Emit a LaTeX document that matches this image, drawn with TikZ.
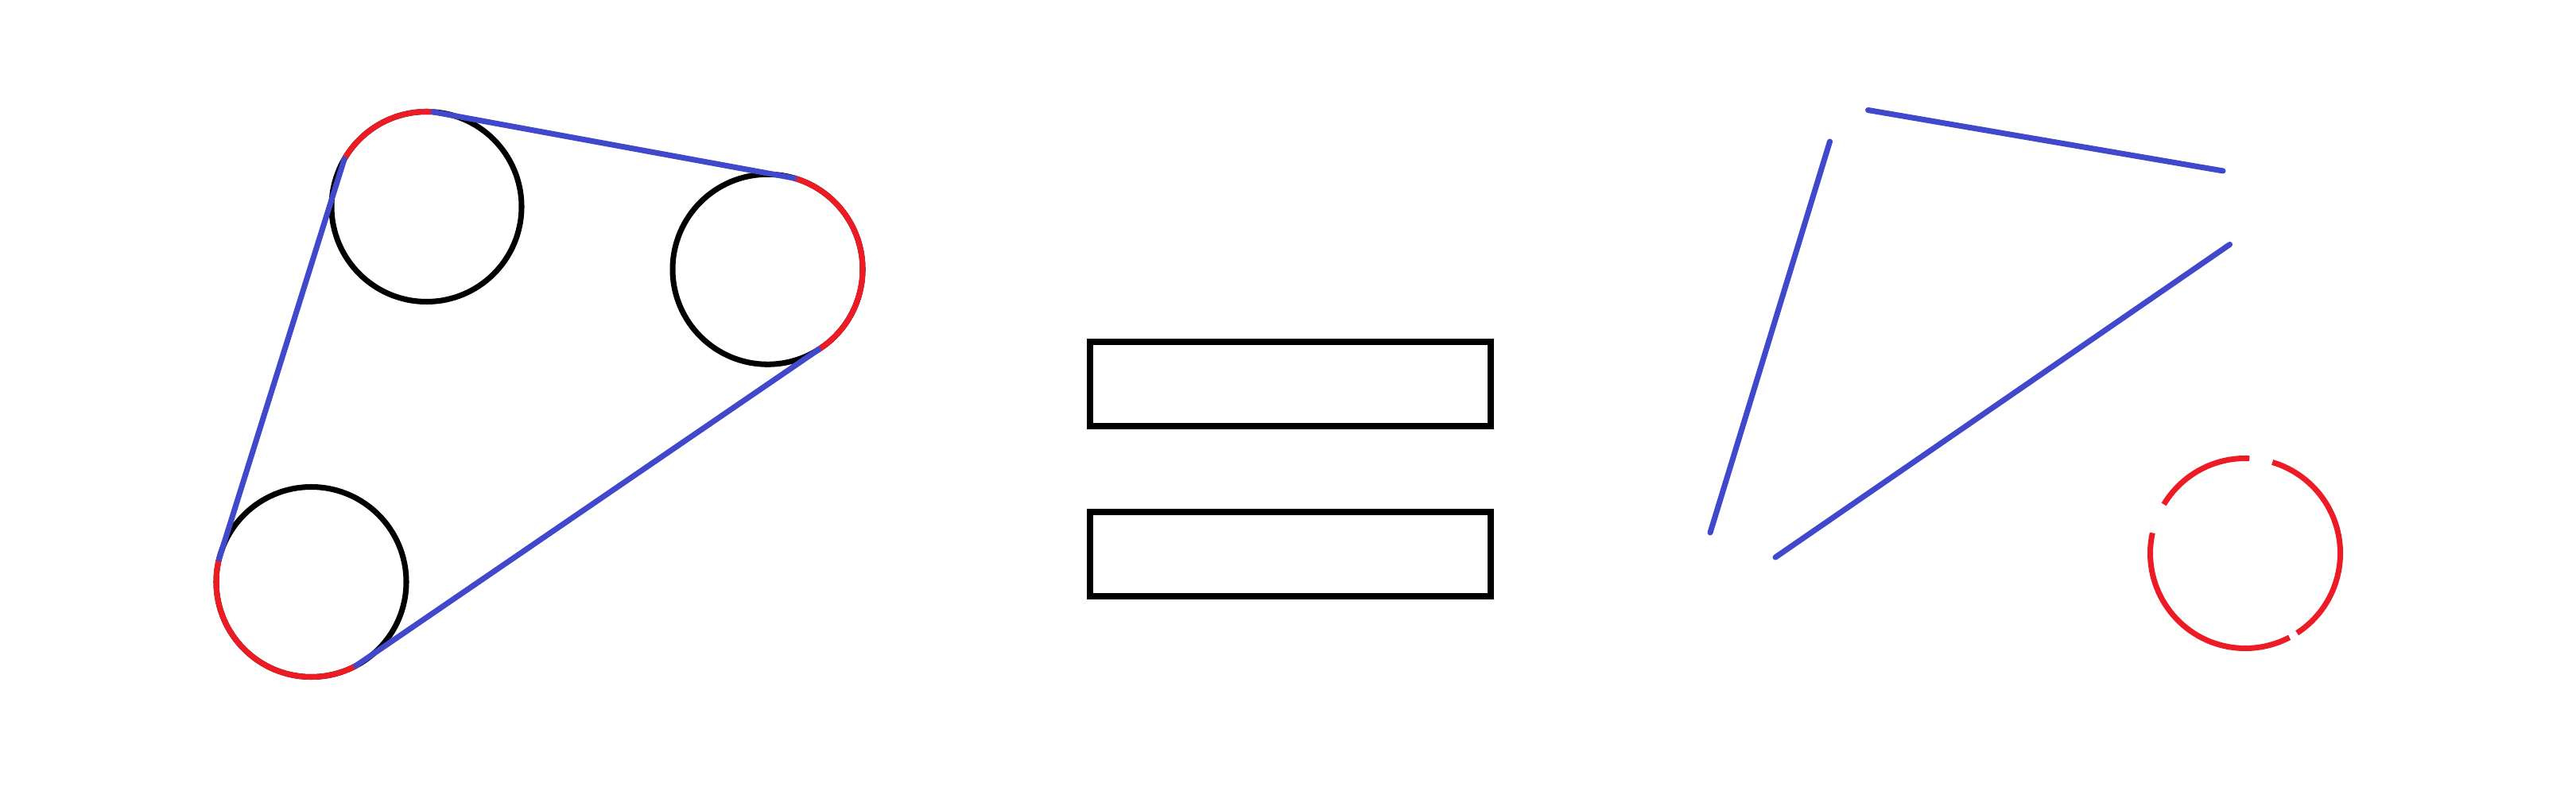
\documentclass[tikz,border=0pt]{standalone}
\usepackage{tikz}
\usetikzlibrary{calc}
\definecolor{beltblue}{RGB}{64,72,204}
\definecolor{beltred}{RGB}{237,28,36}

\begin{document}
\begin{tikzpicture}[
    pulley/.style={draw=black,line width=2pt},
    wrap/.style={draw=beltred,line width=2pt},
    span/.style={draw=beltblue,line width=2pt,line cap=round},
    plate/.style={rectangle,draw=black,line width=2.3pt,inner sep=0pt,minimum width=50.4mm,minimum height=10.6mm},
]
\useasboundingbox (0,0) rectangle (32.4,9.99);
\def\rad{1.195}

% ===== Pulleys (left) =====
\coordinate (pa) at (5.365,7.39);
\coordinate (pb) at (9.655,6.602);
\coordinate (pc) at (3.915,2.67);
\foreach \p in {pa,pb,pc}
    \draw[pulley] (\p) circle (\rad);

% belt contact points
\coordinate (pa1) at ($(pa)+(86:\rad)$);
\coordinate (pa2) at ($(pa)+(150:\rad)$);
\coordinate (pb1) at ($(pb)+(-57.5:\rad)$);
\coordinate (pb2) at ($(pb)+(73.8:\rad)$);
\coordinate (pc1) at ($(pc)+(166:\rad)$);
\coordinate (pc2) at ($(pc)+(298:\rad)$);

% wrapped arcs
\draw[wrap] (pa1) arc (86:150:\rad);
\draw[wrap] (pb1) arc (-57.5:73.8:\rad);
\draw[wrap] (pc1) arc (166:298:\rad);

% straight spans
\draw[span] (pa1) -- (pb2);
\draw[span] (pa2) -- (pc1);
\draw[span] (pc2) -- (pb1);

% ===== Equals sign =====
\node[plate] (eqtop) at (16.23,5.16) {};
\node[plate] (eqbot) at (16.23,3.02) {};

% ===== Unrolled belt (right) =====
\coordinate (sa1) at (23.015,8.21);
\coordinate (sa2) at (21.51,3.29);
\coordinate (sb1) at (23.495,8.605);
\coordinate (sb2) at (27.96,7.84);
\coordinate (sc1) at (28.045,6.915);
\coordinate (sc2) at (22.33,2.98);
\draw[span] (sa1) -- (sa2);
\draw[span] (sb1) -- (sb2);
\draw[span] (sc1) -- (sc2);

% arcs put together on one circle
\coordinate (pr) at (28.24,3.03);
\draw[wrap] ($(pr)+(87.5:\rad)$) arc (87.5:149:\rad);
\draw[wrap] ($(pr)+(-57:\rad)$) arc (-57:73.4:\rad);
\draw[wrap] ($(pr)+(167.6:\rad)$) arc (167.6:297.7:\rad);

\end{tikzpicture}
\end{document}
